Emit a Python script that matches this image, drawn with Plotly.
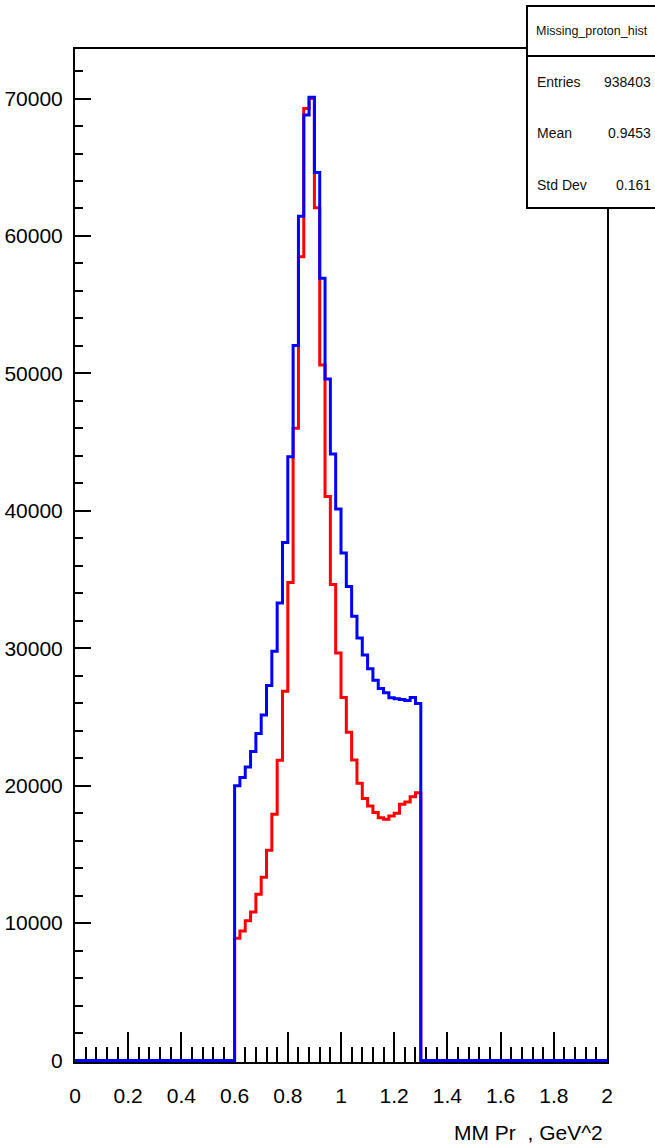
import numpy as np
import plotly.graph_objects as go

# Histogram binning: 100 bins on [0, 2] GeV^2
n_bins = 100
x_min, x_max = 0.0, 2.0
first_filled_bin = 30  # bin starting at 0.60 GeV^2

# Bin contents from 0.60 to 1.30 GeV^2 (35 bins), all other bins are empty
blue_counts = [
    20000, 20600, 21350, 22490, 23800, 25140, 27290, 29780, 33300, 37700,
    43930, 52020, 61440, 68800, 70100, 64620, 56920, 49600, 44130, 40130,
    36930, 34500, 32320, 30750, 29500, 28500, 27670, 27070, 26760, 26390,
    26320, 26270, 26200, 26420, 25980,
]
red_counts = [
    8900, 9430, 10160, 10810, 12100, 13330, 15300, 17910, 21840, 26870,
    34790, 46010, 58480, 69270, 70000, 62050, 50610, 41040, 34630, 29650,
    26420, 23890, 21860, 20170, 19060, 18520, 18040, 17670, 17550, 17790,
    17990, 18640, 18810, 19200, 19490,
]

# Statistics box
stats_name = "Missing_proton_hist"
stats_labels = ["Entries", "Mean", "Std Dev"]
stats_values = ["938403", "0.9453", "0.161"]

x_title = "MM Pr  , GeV^2"
y_ticks = [0, 10000, 20000, 30000, 40000, 50000, 60000, 70000]

FONT = "Liberation Sans, Arial, Helvetica, sans-serif"

edges = np.linspace(x_min, x_max, n_bins + 1)


def full_contents(counts):
    h = np.zeros(n_bins)
    h[first_filled_bin:first_filled_bin + len(counts)] = counts
    return h


def step_trace(counts, color):
    h = full_contents(counts)
    y = np.append(h, h[-1])
    return go.Scatter(
        x=edges, y=y, mode="lines", line_shape="hv",
        line=dict(color=color, width=3), hoverinfo="skip", showlegend=False,
    )


fig = go.Figure()
fig.add_trace(step_trace(red_counts, "#ff0000"))
fig.add_trace(step_trace(blue_counts, "#0000ff"))

y_top = max(blue_counts) * 1.05
# small pad below zero so the empty-bin line is not cut by the frame clip
y_bottom = -110

fig.update_layout(
    width=655, height=1147,
    margin=dict(l=75, r=48, t=49, b=85, pad=0),
    paper_bgcolor="white", plot_bgcolor="white",
    font=dict(family=FONT, size=21, color="black"),
    xaxis=dict(
        range=[x_min, x_max], showgrid=False, zeroline=False,
        showline=True, linecolor="black", linewidth=2, mirror=True,
        ticks="inside", ticklen=30, tickwidth=2, tickcolor="black",
        tick0=0, dtick=0.2, ticklabelstandoff=14, layer="below traces",
        automargin=False,
        tickfont=dict(family=FONT, size=21, color="black"),
        minor=dict(ticks="inside", ticklen=15, tickwidth=2,
                   tickcolor="black", dtick=0.04, tick0=0),
    ),
    yaxis=dict(
        range=[y_bottom, y_top], showgrid=False, zeroline=False,
        showline=True, linecolor="black", linewidth=2, mirror=True,
        ticks="inside", ticklen=16, tickwidth=2, tickcolor="black",
        tickmode="array", tickvals=y_ticks, tickformat="d",
        ticklabelstandoff=6, layer="below traces", automargin=False,
        tickfont=dict(family=FONT, size=21, color="black"),
        minor=dict(ticks="inside", ticklen=8, tickwidth=2,
                   tickcolor="black", dtick=2000, tick0=0),
    ),
)

# Axis title, right aligned under the x axis
fig.add_annotation(
    text=x_title, xref="paper", yref="paper", x=0.996, y=-0.070,
    xanchor="right", yanchor="middle", showarrow=False,
    font=dict(family=FONT, size=21, color="black"),
)

# Statistics box in the top-right corner
box_x0, box_x1 = 0.8496, 1.12
box_y0, box_y1 = 0.8430, 1.0424
sep_y = 0.9931
fig.add_shape(type="rect", xref="paper", yref="paper",
              x0=box_x0, x1=box_x1, y0=box_y0, y1=box_y1,
              line=dict(color="black", width=2), fillcolor="white",
              layer="above")
fig.add_shape(type="line", xref="paper", yref="paper",
              x0=box_x0, x1=box_x1, y0=sep_y, y1=sep_y,
              line=dict(color="black", width=2), layer="above")
fig.add_annotation(
    text=stats_name, xref="paper", yref="paper", x=0.971, y=1.0178,
    xanchor="center", yanchor="middle", showarrow=False,
    font=dict(family=FONT, size=12.5, color="#111111"),
)
row_y = [0.9674, 0.9171, 0.8657]
for label, value, ry in zip(stats_labels, stats_values, row_y):
    fig.add_annotation(
        text=label, xref="paper", yref="paper", x=0.8647, y=ry,
        xanchor="left", yanchor="middle", showarrow=False,
        font=dict(family=FONT, size=14, color="#111111"),
    )
    fig.add_annotation(
        text=value, xref="paper", yref="paper", x=1.0865, y=ry,
        xanchor="right", yanchor="middle", showarrow=False,
        font=dict(family=FONT, size=14, color="#111111"),
    )

fig.write_html("out.html")
